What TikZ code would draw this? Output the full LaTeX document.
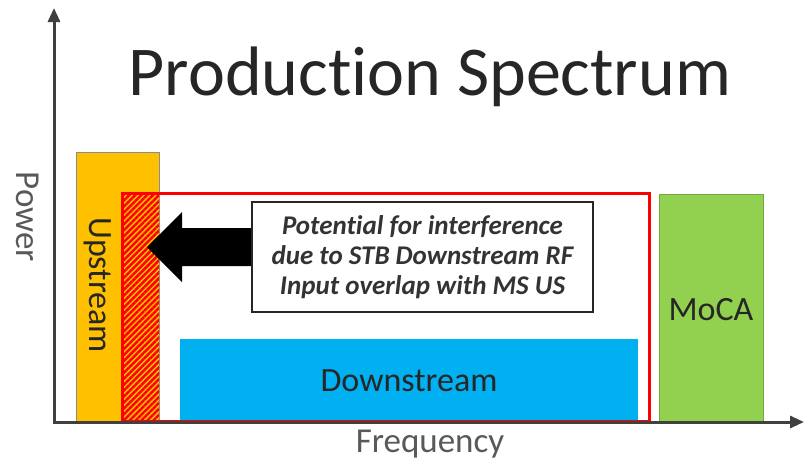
\documentclass[tikz,border=0pt]{standalone}
\usepackage{fontspec}
\setmainfont[Ligatures=NoCommon]{Carlito}
\usetikzlibrary{arrows.meta,patterns.meta}
\definecolor{usorange}{HTML}{FFC000}
\definecolor{dsblue}{HTML}{00B0F0}
\definecolor{mocagreen}{HTML}{92D050}
\definecolor{axisgray}{HTML}{404040}
\definecolor{labelgray}{HTML}{595959}
\tikzset{
  axisline/.style={line width=3pt,draw=axisgray,-{Triangle[length=14pt,width=12pt]}},
  bandlabel/.style={font=\fontsize{34}{36}\selectfont,text=black!85},
  axislabel/.style={font=\fontsize{35}{37}\selectfont,text=labelgray},
  notebox/.style={draw=black!85,line width=2pt,fill=white,align=center,
    minimum width=341pt,minimum height=110pt,inner sep=0pt,
    font=\fontsize{27}{30}\selectfont\bfseries\itshape,text=black!80}
}
\begin{document}
\begin{tikzpicture}[x=1pt,y=-1pt]
\useasboundingbox (0,0) rectangle (808,461);

% title
\node[font=\fontsize{70}{74}\selectfont,text=black!85,anchor=base] (title) at (430,95) {Production Spectrum};

% upstream band with the overlapping part hatched
\draw[fill=usorange,draw=black!45,line width=0.6pt] (76,152) rectangle (159,422);
\draw[fill=usorange,draw=black!40,line width=0.5pt,densely dotted] (122,193) rectangle (159,421);
\fill[pattern={Lines[angle=45,distance=4.2pt,line width=2.5pt]},pattern color=red] (122,193) rectangle (159,421);
\node[bandlabel,rotate=-90] (us) at (98,285) {Upstream};

% downstream band
\fill[dsblue] (180,339) rectangle (638,421);
\node[bandlabel] (ds) at (409,381) {Downstream};

% STB downstream RF input range
\draw[red,line width=3pt] (122,193) rectangle (649,421);

% MoCA band
\draw[fill=mocagreen,draw=mocagreen!80!black,line width=0.6pt] (659,194) rectangle (763,421);
\node[bandlabel] (moca) at (711,310) {MoCA};

% callout and its arrow
\fill[black] (147,247) -- (182,212) -- (182,228) -- (256,228) -- (256,266) -- (182,266) -- (182,282) -- cycle;
\node[notebox] (note) at (422.5,257) {Potential for interference\\due to STB Downstream RF\\Input overlap with MS US};

% axes
\draw[axisline] (54,422) -- (54,8);
\draw[axisline] (52.5,422) -- (804,422);
\node[axislabel,rotate=-90] (power) at (28,217) {Power};
\node[axislabel,anchor=base] (freq) at (430,452) {Frequency};
\end{tikzpicture}
\end{document}
